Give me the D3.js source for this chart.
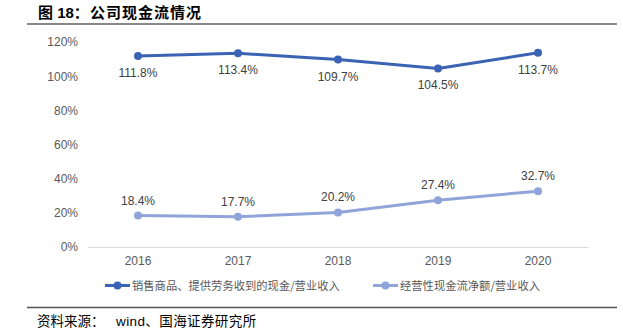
<!DOCTYPE html>
<html>
<head>
<meta charset="utf-8">
<script src="https://cdn.jsdelivr.net/npm/d3@7"></script>
<style>
  html, body { margin: 0; padding: 0; background: #fff; }
  svg { display: block; }
</style>
</head>
<body>
<svg id="chart" width="623" height="334"></svg>
<script>
const years = ["2016", "2017", "2018", "2019", "2020"];
const salesCashRatio = [111.8, 113.4, 109.7, 104.5, 113.7];
const netCashRatio = [18.4, 17.7, 20.2, 27.4, 32.7];
const yTicks = [0, 20, 40, 60, 80, 100, 120];
const seriesNames = ["销售商品、提供劳务收到的现金/营业收入", "经营性现金流净额/营业收入"];
const titleParts = ["图 18：", "公司现金流情况"];
const sourceParts = ["资料来源：", "wind、国海证券研究所"];

const colors = ["#3B63B3", "#8FA5DA"];
const svg = d3.select("#chart");
const sansCJK = "Arial, 'Liberation Sans', 'Noto Sans CJK SC', sans-serif";

// Title
const title = svg.append("text")
  .attr("y", 18)
  .attr("font-family", "'Liberation Sans', Arial, 'Noto Sans CJK SC', sans-serif")
  .attr("font-weight", "bold").attr("font-size", 15).attr("fill", "#000");
title.append("tspan").attr("x", 38).text(titleParts[0]);
title.append("tspan").attr("x", 90).attr("letter-spacing", 1).text(titleParts[1]);
svg.append("line").attr("x1", 27).attr("x2", 617).attr("y1", 24).attr("y2", 24)
  .attr("stroke", "#888").attr("stroke-width", 2);

// Scales
const x = d3.scaleBand().domain(years).range([88, 588]);
const y = d3.scaleLinear().domain([0, 120]).range([247, 42]);
const cx = d => x(d) + x.bandwidth() / 2;

// Y axis
const yAxis = d3.axisLeft(y).tickValues(yTicks).tickFormat(d => d + "%").tickSize(0).tickPadding(0);
const yg = svg.append("g").attr("transform", "translate(78,0)").call(yAxis);
yg.select(".domain").remove();
yg.selectAll("text").attr("font-family", sansCJK).attr("font-size", 12).attr("fill", "#595959");

// X axis
const xAxis = d3.axisBottom(x).tickSize(0).tickPadding(9);
const xg = svg.append("g").attr("transform", "translate(0,247)").call(xAxis);
xg.select(".domain").attr("stroke", "#d9d9d9").attr("stroke-width", 1);
xg.selectAll("text").attr("font-family", sansCJK).attr("font-size", 12).attr("fill", "#595959");

// Lines
const series = [salesCashRatio, netCashRatio];
const line = d3.line().x((d, i) => cx(years[i])).y(d => y(d));
series.forEach((vals, si) => {
  svg.append("path").datum(vals).attr("d", line)
    .attr("fill", "none").attr("stroke", colors[si]).attr("stroke-width", 3)
    .attr("stroke-linejoin", "round");
  svg.selectAll(null).data(vals).enter().append("circle")
    .attr("cx", (d, i) => cx(years[i])).attr("cy", d => y(d)).attr("r", 4)
    .attr("fill", colors[si]);
  svg.selectAll(null).data(vals).enter().append("text")
    .attr("x", (d, i) => cx(years[i]))
    .attr("y", d => y(d) + (si === 0 ? 21 : -11))
    .attr("text-anchor", "middle")
    .attr("font-family", sansCJK).attr("font-size", 12).attr("fill", "#404040")
    .text(d => d.toFixed(1) + "%");
});

// Legend
const legendX = [105, 373];
series.forEach((vals, si) => {
  const lx = legendX[si];
  svg.append("line").attr("x1", lx).attr("x2", lx + 25).attr("y1", 285.5).attr("y2", 285.5)
    .attr("stroke", colors[si]).attr("stroke-width", 3);
  svg.append("circle").attr("cx", lx + 12.5).attr("cy", 285.5).attr("r", 4).attr("fill", colors[si]);
  svg.append("text").attr("x", lx + 27).attr("y", 289.5)
    .attr("font-family", "'Noto Sans CJK SC', sans-serif").attr("font-size", 11.3)
    .attr("fill", "#595959").text(seriesNames[si]);
});

// Bottom rule and source
svg.append("line").attr("x1", 27).attr("x2", 617).attr("y1", 307.5).attr("y2", 307.5)
  .attr("stroke", "#555").attr("stroke-width", 1.5);
const src = svg.append("text").attr("y", 326)
  .attr("font-family", "Arial, 'Liberation Sans', 'Noto Sans CJK SC', sans-serif")
  .attr("font-size", 13.5).attr("fill", "#000");
src.append("tspan").attr("x", 37).text(sourceParts[0]);
src.append("tspan").attr("x", 116).attr("letter-spacing", 0.4).text(sourceParts[1]);
</script>
</body>
</html>
